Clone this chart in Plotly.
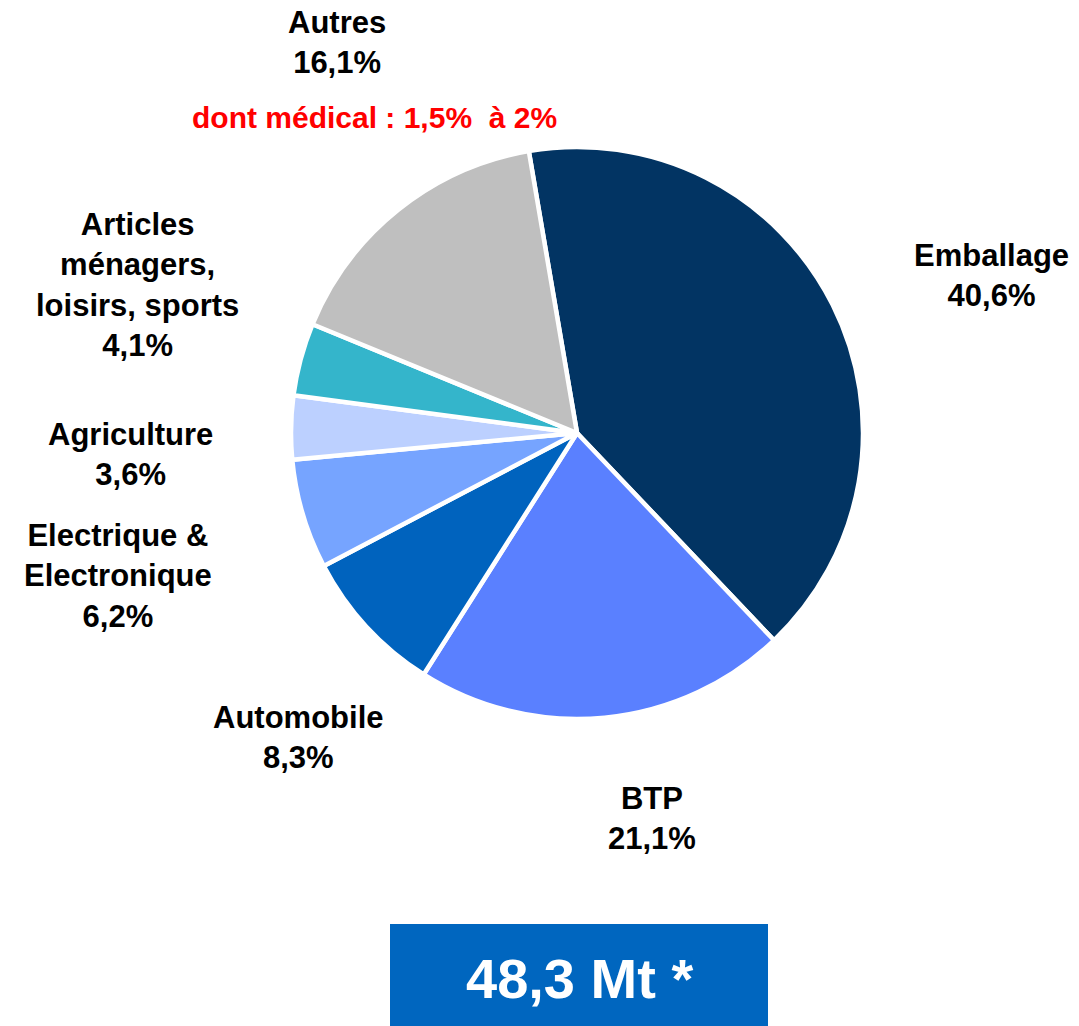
import plotly.graph_objects as go

W, H = 1079, 1026

sectors = ["Emballage", "BTP", "Automobile", "Electrique & Electronique",
           "Agriculture", "Articles ménagers, loisirs, sports", "Autres"]
shares = [40.6, 21.1, 8.3, 6.2, 3.6, 4.1, 16.1]
colors = ["#023463", "#5A80FF", "#0063BE", "#76A4FF", "#BCD0FF", "#34B5CB", "#BFBFBF"]
label_texts = ["Emballage<br>40,6%", "BTP<br>21,1%", "Automobile<br>8,3%",
               "Electrique &<br>Electronique<br>6,2%", "Agriculture<br>3,6%",
               "Articles<br>ménagers,<br>loisirs, sports<br>4,1%", "Autres<br>16,1%"]
label_pos = [(991, 275), (652, 818), (298, 737), (118, 576), (130, 455), (137, 285), (337, 42)]
note_text = "dont médical : 1,5%  à 2%"
total_text = "48,3 Mt *"

def px(x, y):
    return x / W, 1 - y / H

cx, cy, r = 577, 433, 286
fig = go.Figure(go.Pie(
    labels=sectors, values=shares, sort=False, direction="clockwise",
    rotation=-9.7, textinfo="none", hoverinfo="label+percent",
    marker=dict(colors=colors, line=dict(color="white", width=4.5)),
    domain=dict(x=[(cx - r) / W, (cx + r) / W], y=[1 - (cy + r) / H, 1 - (cy - r) / H]),
    showlegend=False,
))

fam = "Liberation Sans, Arial, sans-serif"
font = dict(family=fam, size=31, color="#000000")
anns = []
for t, (x, y) in zip(label_texts, label_pos):
    ax, ay = px(x, y)
    anns.append(dict(text="<b>%s</b>" % t, x=ax, y=ay, xref="paper", yref="paper",
                     xanchor="center", yanchor="middle", showarrow=False, align="center", font=font))
ax, ay = px(374, 117)
anns.append(dict(text="<b>%s</b>" % note_text, x=ax, y=ay, xref="paper", yref="paper",
                 xanchor="center", yanchor="middle", showarrow=False,
                 font=dict(family=fam, size=30, color="#FF0000")))
ax, ay = px(579, 978)
anns.append(dict(text="<b>%s</b>" % total_text, x=ax, y=ay, xref="paper", yref="paper",
                 xanchor="center", yanchor="middle", showarrow=False,
                 font=dict(family=fam, size=56, color="#FFFFFF")))

x0, y0 = px(390, 1040)
x1, y1 = px(768, 924)
fig.update_layout(
    width=W, height=H, margin=dict(l=0, r=0, t=0, b=0),
    paper_bgcolor="white", plot_bgcolor="white",
    annotations=anns,
    shapes=[dict(type="rect", xref="paper", yref="paper", x0=x0, x1=x1, y0=y0, y1=y1,
                 fillcolor="#0066BF", line=dict(width=0), layer="below")],
)
fig.write_html("out.html", config={"displayModeBar": False},
               post_script="document.body.style.margin='0';document.body.style.overflow='hidden';")
